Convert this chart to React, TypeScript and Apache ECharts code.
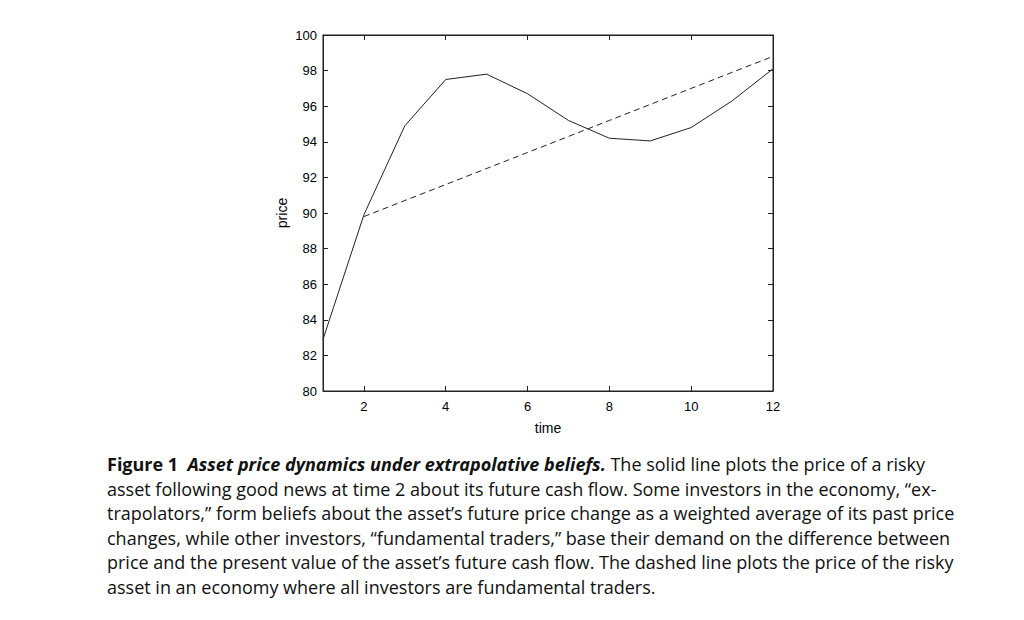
import React, { useEffect, useRef } from "react";
import * as echarts from "echarts";

const times = [1, 2, 3, 4, 5, 6, 7, 8, 9, 10, 11, 12];
const extrapolatorPrice = [82.9, 89.9, 94.9, 97.5, 97.8, 96.7, 95.2, 94.2, 94.05, 94.8, 96.3, 98.1];
const fundamentalTimes = [2, 3, 4, 5, 6, 7, 8, 9, 10, 11, 12];
const fundamentalPrice = [89.8, 90.7, 91.6, 92.5, 93.4, 94.3, 95.2, 96.1, 97.0, 97.9, 98.8];
const xTicks = [2, 4, 6, 8, 10, 12];

const captionLines = [
  [
    { t: "Figure 1  ", s: "b" },
    { t: "Asset price dynamics under extrapolative beliefs.", s: "bi" },
    { t: " The solid line plots the price of a risky", s: "n" },
  ],
  [{ t: "asset following good news at time 2 about its future cash flow. Some investors in the economy, \u201cex-", s: "n" }],
  [{ t: "trapolators,\u201d form beliefs about the asset\u2019s future price change as a weighted average of its past price", s: "n" }],
  [{ t: "changes, while other investors, \u201cfundamental traders,\u201d base their demand on the difference between", s: "n" }],
  [{ t: "price and the present value of the asset\u2019s future cash flow. The dashed line plots the price of the risky", s: "n" }],
  [{ t: "asset in an economy where all investors are fundamental traders.", s: "n" }],
];

export default function App() {
  const ref = useRef<HTMLDivElement>(null);
  useEffect(() => {
    document.body.style.margin = "0";
    const chart = echarts.init(ref.current!, null, { renderer: "svg" });
    const capFont = "Open Sans";
    const capSize = 18;
    const richStyles: any = {
      b: { fontWeight: "bold", fontFamily: capFont, fontSize: capSize, fill: "#111" },
      bi: { fontWeight: "bold", fontStyle: "italic", fontFamily: capFont, fontSize: capSize, fill: "#111" },
      n: { fontFamily: capFont, fontSize: capSize, fill: "#111" },
    };
    const captionGraphics = captionLines.map((line, i) => ({
      type: "text",
      left: 107,
      top: 455 + i * 24.6,
      style: {
        text: line.map((p) => `{${p.s}|${p.t.replace(/[{}|]/g, "")}}`).join(""),
        rich: richStyles,
        fontFamily: capFont,
        fontSize: capSize,
        fill: "#111",
      },
    }));
    const axisFont = { fontFamily: "Liberation Sans", fontSize: 13, color: "#000" };
    chart.setOption({
      animation: false,
      backgroundColor: "#fff",
      grid: {
        left: 323,
        right: 251,
        top: 35,
        bottom: 229,
        show: true,
        borderColor: "#222",
        borderWidth: 1,
      },
      xAxis: [
        {
          type: "value",
          min: 1,
          max: 12,
          name: "time",
          nameLocation: "middle",
          nameGap: 30,
          nameTextStyle: { ...axisFont, fontSize: 14 },
          axisLine: { show: true, lineStyle: { color: "#222" } },
          axisTick: { inside: true, length: 5, customValues: xTicks, lineStyle: { color: "#222" } },
          axisLabel: { ...axisFont, margin: 9, customValues: xTicks },
          splitLine: { show: false },
        },
        {
          type: "value",
          position: "top",
          min: 1,
          max: 12,
          axisLine: { show: true, lineStyle: { color: "#222" } },
          axisTick: { inside: true, length: 5, customValues: xTicks, lineStyle: { color: "#222" } },
          axisLabel: { show: false },
          splitLine: { show: false },
        },
      ],
      yAxis: [
        {
          type: "value",
          min: 80,
          max: 100,
          interval: 2,
          name: "price",
          nameLocation: "middle",
          nameGap: 34,
          nameRotate: 90,
          nameTextStyle: { ...axisFont, fontSize: 14 },
          axisLine: { show: true, lineStyle: { color: "#222" } },
          axisTick: { inside: true, length: 5, lineStyle: { color: "#222" } },
          axisLabel: { ...axisFont, margin: 6 },
          splitLine: { show: false },
        },
        {
          type: "value",
          position: "right",
          min: 80,
          max: 100,
          interval: 2,
          axisLine: { show: true, lineStyle: { color: "#222" } },
          axisTick: { inside: true, length: 5, lineStyle: { color: "#222" } },
          axisLabel: { show: false },
          splitLine: { show: false },
        },
      ],
      series: [
        {
          type: "line",
          name: "extrapolators",
          data: times.map((t, i) => [t, extrapolatorPrice[i]]),
          showSymbol: false,
          lineStyle: { color: "#222", width: 1 },
        },
        {
          type: "line",
          name: "fundamental",
          data: fundamentalTimes.map((t, i) => [t, fundamentalPrice[i]]),
          showSymbol: false,
          lineStyle: { color: "#222", width: 1, type: [6, 4] },
        },
      ],
      graphic: captionGraphics,
    });
    return () => chart.dispose();
  }, []);
  return <div ref={ref} style={{ position: "absolute", left: 0, top: 0, width: 1024, height: 620 }} />;
}
